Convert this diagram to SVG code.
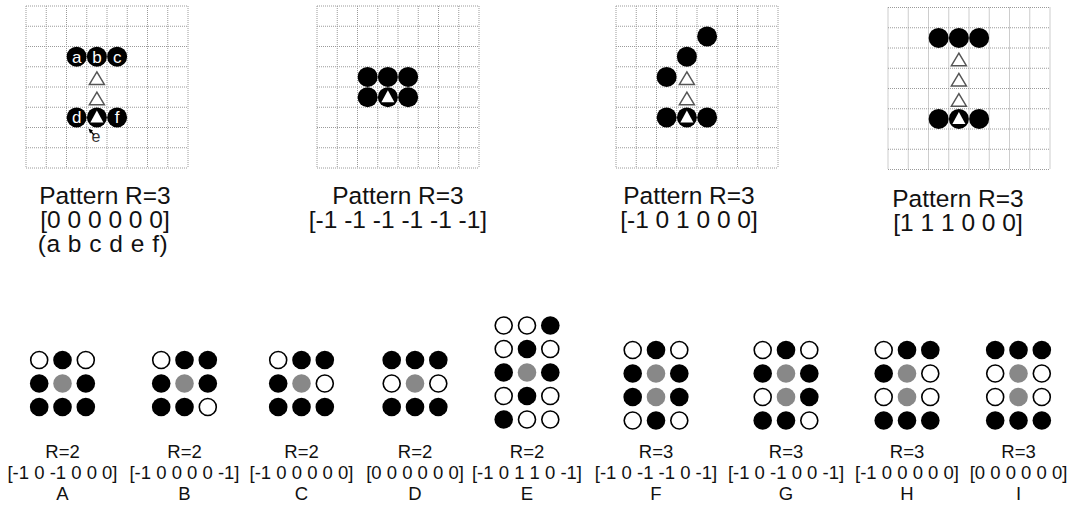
<svg xmlns="http://www.w3.org/2000/svg" xmlns:xlink="http://www.w3.org/1999/xlink" width="1073" height="512" viewBox="0 0 1073 512">
<style>
.grid{fill:none;stroke:#9a9a9a;stroke-width:1;stroke-dasharray:1 1}
.t{font-family:"Liberation Sans",Arial,sans-serif;fill:#111;text-anchor:middle}
.big{font-size:24.5px}
.sm{font-size:18.5px}
.lbl{font-family:"Liberation Sans",Arial,sans-serif;fill:#fff;font-size:17px;text-anchor:middle}
</style>
<defs>
<path id="gridp" class="grid" d="M0 0V162M20.25 0V162M40.5 0V162M60.75 0V162M81 0V162M101.25 0V162M121.5 0V162M141.75 0V162M162 0V162M0 0H162M0 20.25H162M0 40.5H162M0 60.75H162M0 81H162M0 101.25H162M0 121.5H162M0 141.75H162M0 162H162"/>
<circle id="st" r="10" fill="#000"/>
<polygon id="tri" points="0,-5 7.5,7.5 -7.5,7.5" fill="#fff" stroke="#555" stroke-width="1.5"/>
<g id="tst"><circle r="10" fill="#000"/><polygon points="0,-7 6.5,5 -6.5,5" fill="#fff"/></g>
<circle id="bf" r="9.3" fill="#000"/>
<circle id="bo" r="8.5" fill="#fff" stroke="#000" stroke-width="1.6"/>
<circle id="bg" r="9.3" fill="#888"/>
</defs>
<rect width="1073" height="512" fill="#fff"/>

<g id="panel1">
<g transform="translate(26,6)">
<use href="#gridp"/>
<use href="#st" x="50.625" y="50.625"/><use href="#st" x="70.875" y="50.625"/><use href="#st" x="91.125" y="50.625"/>
<use href="#tri" x="70.875" y="70.875"/><use href="#tri" x="70.875" y="91.125"/>
<use href="#st" x="50.625" y="111.375"/><use href="#tst" x="70.875" y="111.375"/><use href="#st" x="91.125" y="111.375"/>
<text class="lbl" x="50.625" y="56.6">a</text><text class="lbl" x="70.875" y="56.6">b</text><text class="lbl" x="91.125" y="56.6">c</text>
<text class="lbl" x="50.625" y="117.4">d</text><text class="lbl" x="91.125" y="117.4">f</text>
</g>
<text x="96" y="142" font-family="Liberation Sans,Arial,sans-serif" font-size="16" fill="#333" text-anchor="middle">e</text>
<text class="t big" x="105" y="204">Pattern R=3</text>
<text class="t big" x="105" y="228">[0 0 0 0 0 0]</text>
<text class="t big" x="103" y="252" letter-spacing="0.5">(a b c d e f)</text>
</g>

<g id="panel2">
<g transform="translate(317,6)">
<use href="#gridp"/>
<use href="#st" x="50.625" y="70.875"/><use href="#st" x="70.875" y="70.875"/><use href="#st" x="91.125" y="70.875"/>
<use href="#st" x="50.625" y="91.125"/><use href="#tst" x="70.875" y="91.125"/><use href="#st" x="91.125" y="91.125"/>
</g>
<text class="t big" x="398" y="204">Pattern R=3</text>
<text class="t big" x="398" y="228">[-1 -1 -1 -1 -1 -1]</text>
</g>

<g id="panel3">
<g transform="translate(616,6)">
<use href="#gridp"/>
<use href="#st" x="91.125" y="30.375"/>
<use href="#st" x="70.875" y="50.625"/>
<use href="#st" x="50.625" y="70.875"/>
<use href="#tri" x="70.875" y="70.875"/><use href="#tri" x="70.875" y="91.125"/>
<use href="#st" x="50.625" y="111.375"/><use href="#tst" x="70.875" y="111.375"/><use href="#st" x="91.125" y="111.375"/>
</g>
<text class="t big" x="689" y="204">Pattern R=3</text>
<text class="t big" x="689" y="228">[-1 0 1 0 0 0]</text>
</g>

<g id="panel4">
<g transform="translate(888,7.5)">
<use href="#gridp"/>
<use href="#st" x="50.625" y="30.375"/><use href="#st" x="70.875" y="30.375"/><use href="#st" x="91.125" y="30.375"/>
<use href="#tri" x="70.875" y="50.625"/><use href="#tri" x="70.875" y="70.875"/><use href="#tri" x="70.875" y="91.125"/>
<use href="#st" x="50.625" y="111.375"/><use href="#tst" x="70.875" y="111.375"/><use href="#st" x="91.125" y="111.375"/>
</g>
<text class="t big" x="958" y="207">Pattern R=3</text>
<text class="t big" x="958" y="231">[1 1 1 0 0 0]</text>
</g>

<g id="connectors">
<line x1="94" y1="135" x2="91" y2="131.5" stroke="#000" stroke-width="1.2"/>
<polygon points="88.5,128.5 93,130.5 90,133.5" fill="#000"/>
</g>

<g id="patA">
<use href="#bo" x="39.2" y="360"/><use href="#bf" x="62.5" y="360"/><use href="#bo" x="85.8" y="360"/>
<use href="#bf" x="39.2" y="383.5"/><use href="#bg" x="62.5" y="383.5"/><use href="#bf" x="85.8" y="383.5"/>
<use href="#bf" x="39.2" y="407"/><use href="#bf" x="62.5" y="407"/><use href="#bf" x="85.8" y="407"/>
<text class="t sm" x="62.5" y="458">R=2</text><text class="t sm" x="62.5" y="479">[-1 0 -1 0 0 0]</text><text class="t sm" x="62.5" y="500">A</text>
</g>
<g id="patB">
<use href="#bo" x="161.2" y="360"/><use href="#bf" x="184.5" y="360"/><use href="#bf" x="207.8" y="360"/>
<use href="#bf" x="161.2" y="383.5"/><use href="#bg" x="184.5" y="383.5"/><use href="#bf" x="207.8" y="383.5"/>
<use href="#bf" x="161.2" y="407"/><use href="#bf" x="184.5" y="407"/><use href="#bo" x="207.8" y="407"/>
<text class="t sm" x="184.5" y="458">R=2</text><text class="t sm" x="184.5" y="479">[-1 0 0 0 0 -1]</text><text class="t sm" x="184.5" y="500">B</text>
</g>
<g id="patC">
<use href="#bo" x="278.2" y="360"/><use href="#bf" x="301.5" y="360"/><use href="#bf" x="324.8" y="360"/>
<use href="#bf" x="278.2" y="383.5"/><use href="#bg" x="301.5" y="383.5"/><use href="#bo" x="324.8" y="383.5"/>
<use href="#bf" x="278.2" y="407"/><use href="#bf" x="301.5" y="407"/><use href="#bf" x="324.8" y="407"/>
<text class="t sm" x="301.5" y="458">R=2</text><text class="t sm" x="301.5" y="479">[-1 0 0 0 0 0]</text><text class="t sm" x="301.5" y="500">C</text>
</g>
<g id="patD">
<use href="#bf" x="391.7" y="360"/><use href="#bf" x="415" y="360"/><use href="#bf" x="438.3" y="360"/>
<use href="#bo" x="391.7" y="383.5"/><use href="#bg" x="415" y="383.5"/><use href="#bo" x="438.3" y="383.5"/>
<use href="#bf" x="391.7" y="407"/><use href="#bf" x="415" y="407"/><use href="#bf" x="438.3" y="407"/>
<text class="t sm" x="415" y="458">R=2</text><text class="t sm" x="415" y="479">[0 0 0 0 0 0]</text><text class="t sm" x="415" y="500">D</text>
</g>
<g id="patE">
<use href="#bo" x="503.7" y="325.5"/><use href="#bo" x="527" y="325.5"/><use href="#bf" x="550.3" y="325.5"/>
<use href="#bo" x="503.7" y="349"/><use href="#bf" x="527" y="349"/><use href="#bo" x="550.3" y="349"/>
<use href="#bf" x="503.7" y="372.5"/><use href="#bg" x="527" y="372.5"/><use href="#bf" x="550.3" y="372.5"/>
<use href="#bo" x="503.7" y="396"/><use href="#bf" x="527" y="396"/><use href="#bo" x="550.3" y="396"/>
<use href="#bf" x="503.7" y="419.5"/><use href="#bo" x="527" y="419.5"/><use href="#bo" x="550.3" y="419.5"/>
<text class="t sm" x="527" y="458">R=2</text><text class="t sm" x="527" y="479">[-1 0 1 1 0 -1]</text><text class="t sm" x="527" y="500">E</text>
</g>
<g id="patF">
<use href="#bo" x="632.7" y="350"/><use href="#bf" x="656" y="350"/><use href="#bo" x="679.3" y="350"/>
<use href="#bf" x="632.7" y="373.5"/><use href="#bg" x="656" y="373.5"/><use href="#bf" x="679.3" y="373.5"/>
<use href="#bf" x="632.7" y="397"/><use href="#bg" x="656" y="397"/><use href="#bf" x="679.3" y="397"/>
<use href="#bo" x="632.7" y="420.5"/><use href="#bf" x="656" y="420.5"/><use href="#bo" x="679.3" y="420.5"/>
<text class="t sm" x="656" y="458">R=3</text><text class="t sm" x="656" y="479">[-1 0 -1 -1 0 -1]</text><text class="t sm" x="656" y="500">F</text>
</g>
<g id="patG">
<use href="#bo" x="762.7" y="350"/><use href="#bf" x="786" y="350"/><use href="#bo" x="809.3" y="350"/>
<use href="#bf" x="762.7" y="373.5"/><use href="#bg" x="786" y="373.5"/><use href="#bf" x="809.3" y="373.5"/>
<use href="#bo" x="762.7" y="397"/><use href="#bg" x="786" y="397"/><use href="#bf" x="809.3" y="397"/>
<use href="#bf" x="762.7" y="420.5"/><use href="#bf" x="786" y="420.5"/><use href="#bo" x="809.3" y="420.5"/>
<text class="t sm" x="786" y="458">R=3</text><text class="t sm" x="786" y="479">[-1 0 -1 0 0 -1]</text><text class="t sm" x="786" y="500">G</text>
</g>
<g id="patH">
<use href="#bo" x="883.7" y="350"/><use href="#bf" x="907" y="350"/><use href="#bf" x="930.3" y="350"/>
<use href="#bf" x="883.7" y="373.5"/><use href="#bg" x="907" y="373.5"/><use href="#bo" x="930.3" y="373.5"/>
<use href="#bo" x="883.7" y="397"/><use href="#bg" x="907" y="397"/><use href="#bo" x="930.3" y="397"/>
<use href="#bf" x="883.7" y="420.5"/><use href="#bf" x="907" y="420.5"/><use href="#bf" x="930.3" y="420.5"/>
<text class="t sm" x="907" y="458">R=3</text><text class="t sm" x="907" y="479">[-1 0 0 0 0 0]</text><text class="t sm" x="907" y="500">H</text>
</g>
<g id="patI">
<use href="#bf" x="995.2" y="350"/><use href="#bf" x="1018.5" y="350"/><use href="#bf" x="1041.8" y="350"/>
<use href="#bo" x="995.2" y="373.5"/><use href="#bg" x="1018.5" y="373.5"/><use href="#bo" x="1041.8" y="373.5"/>
<use href="#bo" x="995.2" y="397"/><use href="#bg" x="1018.5" y="397"/><use href="#bo" x="1041.8" y="397"/>
<use href="#bf" x="995.2" y="420.5"/><use href="#bf" x="1018.5" y="420.5"/><use href="#bf" x="1041.8" y="420.5"/>
<text class="t sm" x="1018.5" y="458">R=3</text><text class="t sm" x="1018.5" y="479">[0 0 0 0 0 0]</text><text class="t sm" x="1018.5" y="500">I</text>
</g>
</svg>
